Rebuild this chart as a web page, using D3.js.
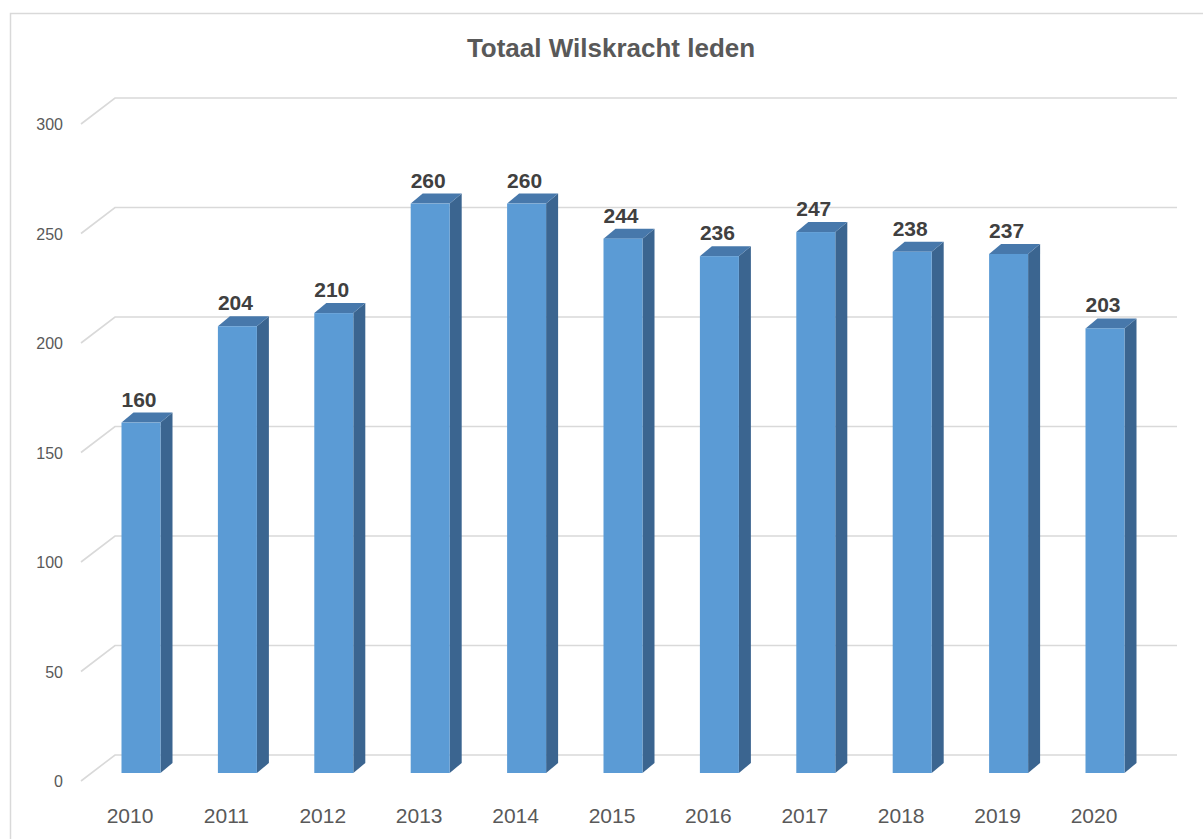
<!DOCTYPE html>
<html>
<head>
<meta charset="utf-8">
<script src="https://cdn.jsdelivr.net/npm/d3@7"></script>
<style>
  body { margin: 0; background: #fff; }
  text { font-family: "Liberation Sans", Arial, sans-serif; }
</style>
</head>
<body>
<svg id="chart"></svg>
<script>
const years = ["2010","2011","2012","2013","2014","2015","2016","2017","2018","2019","2020"];
const members = [160, 204, 210, 260, 260, 244, 236, 247, 238, 237, 203];
const yTicks = [0, 50, 100, 150, 200, 250, 300];
const title = "Totaal Wilskracht leden";

const W = 1203, H = 839;
const svg = d3.select("#chart").attr("width", W).attr("height", H);

// 3D offsets (perspective)
const wallDx = 34, wallDy = -26;   // front axis -> back wall
const barDx = 12, barDy = -10;     // bar depth
const barW = 39;

// frame
svg.append("rect")
  .attr("x", 10.5).attr("y", 13.5)
  .attr("width", 1210).attr("height", 840)
  .attr("fill", "#fff").attr("stroke", "#d9d9d9").attr("stroke-width", 1.5);

// title
svg.append("text")
  .attr("x", 611).attr("y", 57)
  .attr("text-anchor", "middle")
  .attr("font-size", "26px").attr("font-weight", "bold")
  .attr("fill", "#595959")
  .text(title);

// scales: front plane of bars
const yBar = d3.scaleLinear().domain([0, 300]).range([773, 116]);
const yFront = d3.scaleLinear().domain([0, 300]).range([781, 124]);
const x = d3.scalePoint().domain(years).range([141, 1105]);

// gridlines: diagonal on side wall then horizontal on back wall
const grid = svg.append("g");
yTicks.forEach(t => {
  const y0 = yFront(t);
  grid.append("path")
    .attr("d", `M81,${y0} L${81 + wallDx},${y0 + wallDy} L1177,${y0 + wallDy}`)
    .attr("fill", "none").attr("stroke", "#d9d9d9").attr("stroke-width", 1.6);
});

// y labels
svg.append("g").selectAll("text")
  .data(yTicks).enter().append("text")
  .attr("x", 63).attr("y", d => yFront(d) + 6)
  .attr("text-anchor", "end")
  .attr("font-size", "16px").attr("fill", "#595959")
  .text(d => d);

// bars
const data = years.map((y, i) => ({ year: y, value: members[i] }));
const bars = svg.append("g").selectAll("g").data(data).enter().append("g");

// side face
bars.append("path")
  .attr("d", d => {
    const xr = x(d.year) + barW / 2, yt = yBar(d.value), yb = yBar(0);
    return `M${xr},${yb} L${xr + barDx},${yb + barDy} L${xr + barDx},${yt + barDy} L${xr},${yt} Z`;
  })
  .attr("fill", "#3b6590");

// top face
bars.append("path")
  .attr("d", d => {
    const xl = x(d.year) - barW / 2, xr = xl + barW, yt = yBar(d.value);
    return `M${xl},${yt} L${xl + barDx},${yt + barDy} L${xr + barDx},${yt + barDy} L${xr},${yt} Z`;
  })
  .attr("fill", "#4778ab");

// front face
bars.append("rect")
  .attr("x", d => x(d.year) - barW / 2)
  .attr("y", d => yBar(d.value))
  .attr("width", barW)
  .attr("height", d => yBar(0) - yBar(d.value))
  .attr("fill", "#5b9bd5");

// value labels
bars.append("text")
  .attr("x", d => x(d.year) - 2)
  .attr("y", d => yBar(d.value) - 16)
  .attr("text-anchor", "middle")
  .attr("font-size", "21px").attr("font-weight", "bold")
  .attr("fill", "#404040")
  .text(d => d.value);

// x labels
svg.append("g").selectAll("text")
  .data(years).enter().append("text")
  .attr("x", d => x(d) - 11).attr("y", 823)
  .attr("text-anchor", "middle")
  .attr("font-size", "21px").attr("fill", "#595959")
  .text(d => d);
</script>
</body>
</html>
